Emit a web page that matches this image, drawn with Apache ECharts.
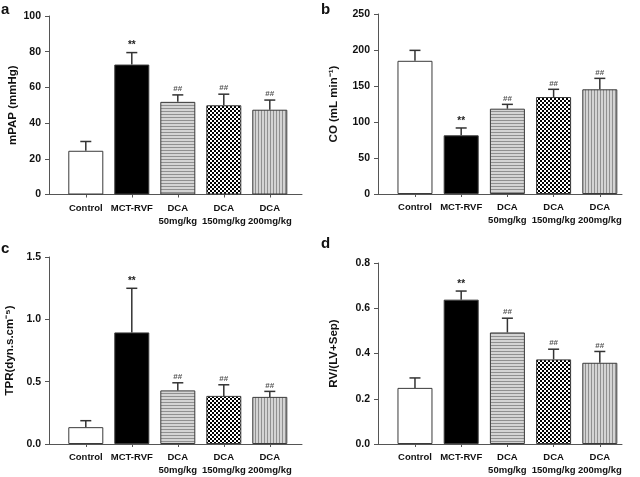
<!DOCTYPE html>
<html><head><meta charset="utf-8">
<script src="https://cdn.jsdelivr.net/npm/echarts@6/dist/echarts.min.js"></script>
<style>html,body{margin:0;padding:0;background:#fff}#c{width:640px;height:477px}</style>
</head><body><div id="c"></div>
<script>
var categories = ['Control', 'MCT-RVF', 'DCA\n50mg/kg', 'DCA\n150mg/kg', 'DCA\n200mg/kg'];
var marks = ['', '**', '##', '##', '##'];

var mpapMean = [24.5, 72.8, 51.9, 50.0, 47.5];
var mpapErr  = [5.2, 6.7, 3.9, 6.2, 5.4];

var coMean = [185, 81.5, 118.5, 134.7, 145.4];
var coErr  = [14.5, 10.2, 6.0, 10.7, 15.2];

var tprMean = [0.135, 0.895, 0.43, 0.386, 0.378];
var tprErr  = [0.052, 0.354, 0.061, 0.089, 0.044];

var rvMean = [0.248, 0.638, 0.493, 0.374, 0.359];
var rvErr  = [0.044, 0.038, 0.063, 0.045, 0.050];

function mkCanvas(w, h, draw) { var c = document.createElement('canvas'); c.width = w; c.height = h; draw(c.getContext('2d')); return c; }
var hStripe = mkCanvas(4, 3, function (g) { g.fillStyle = '#d4d4d4'; g.fillRect(0, 0, 4, 3); g.fillStyle = '#909090'; g.fillRect(0, 0, 4, 1); });
var checker = mkCanvas(4, 4, function (g) { g.fillStyle = '#ffffff'; g.fillRect(0, 0, 4, 4); g.fillStyle = '#000000'; g.fillRect(0, 0, 2, 2); g.fillRect(2, 2, 2, 2); });
var vStripe = mkCanvas(3, 4, function (g) { g.fillStyle = '#d4d4d4'; g.fillRect(0, 0, 3, 4); g.fillStyle = '#909090'; g.fillRect(0, 0, 1, 4); });
var fills = ['#ffffff', '#000000', { image: hStripe, repeat: 'repeat' }, { image: checker, repeat: 'repeat' }, { image: vStripe, repeat: 'repeat' }];

var font = 'Liberation Sans, Arial, sans-serif';
var panels = [
  { mean: mpapMean, err: mpapErr, max: 100, interval: 20, dec: 0, name: 'mPAP (mmHg)', gap: 30, grid: { left: 49, top: 16, width: 253, height: 178.5 }, xmin: -0.8, xmax: 4.7, letter: 'a', lx: 1, ly: 2 },
  { mean: coMean, err: coErr, max: 250, interval: 50, dec: 0, name: 'CO (mL min\u207B\u00B9)', gap: 38, grid: { left: 378, top: 14, width: 244, height: 180 }, xmin: -0.8, xmax: 4.48, letter: 'b', lx: 321, ly: 2 },
  { mean: tprMean, err: tprErr, max: 1.5, interval: 0.5, dec: 1, name: 'TPR(dyn.s.cm\u207B\u2075)', gap: 33.5, grid: { left: 49, top: 257, width: 253, height: 189 }, xmin: -0.8, xmax: 4.7, letter: 'c', lx: 1, ly: 241 },
  { mean: rvMean, err: rvErr, max: 0.8, interval: 0.2, dec: 1, name: 'RV/(LV+Sep)', gap: 38, grid: { left: 378, top: 263, width: 244, height: 183 }, xmin: -0.8, xmax: 4.48, letter: 'd', lx: 321, ly: 236 }
];

var option = { animation: false, backgroundColor: '#fff', title: [], grid: [], xAxis: [], yAxis: [], series: [] };
var idx5 = categories.map(function (_, i) { return i; });

panels.forEach(function (p, k) {
  option.title.push({ text: p.letter, left: p.lx, top: p.ly, padding: 0, textStyle: { fontFamily: font, fontWeight: 'bold', fontSize: 15, color: '#111' } });
  option.grid.push(p.grid);
  option.xAxis.push({
    type: 'value', gridIndex: k, min: p.xmin, max: p.xmax, splitLine: { show: false },
    axisLine: { onZero: false, lineStyle: { color: '#555', width: 1 } },
    axisTick: { customValues: idx5, length: 3, lineStyle: { color: '#555' } },
    axisLabel: { customValues: idx5, formatter: function (v) { return categories[Math.round(v)]; }, fontFamily: font, fontWeight: 'bold', fontSize: 9.5, color: '#111', lineHeight: 13, margin: 7 }
  });
  option.yAxis.push({
    type: 'value', gridIndex: k, min: 0, max: p.max, interval: p.interval, splitLine: { show: false },
    name: p.name, nameLocation: 'middle', nameGap: p.gap, nameRotate: 90,
    nameTextStyle: { fontFamily: font, fontWeight: 'bold', fontSize: 11.5, color: '#111' },
    axisLine: { show: true, onZero: false, lineStyle: { color: '#555', width: 1 } },
    axisTick: { show: true, length: 4, lineStyle: { color: '#555' } },
    axisLabel: { formatter: function (v) { return v.toFixed(p.dec); }, fontFamily: font, fontWeight: 'bold', fontSize: 10.5, color: '#111', margin: 8 }
  });
  option.series.push({
    type: 'bar', xAxisIndex: k, yAxisIndex: k, barWidth: 35,
    data: p.mean.map(function (v, i) { return { value: [i, v], itemStyle: { color: fills[i], borderColor: '#3a3a3a', borderWidth: 1 } }; })
  });
  option.series.push({
    type: 'custom', xAxisIndex: k, yAxisIndex: k, z: 5,
    data: p.mean.map(function (v, i) { return [i, v, p.err[i]]; }),
    renderItem: function (params, api) {
      var x = api.value(0), y = api.value(1), e = api.value(2);
      var p0 = api.coord([x, y]), p1 = api.coord([x, y + e]);
      var m = marks[params.dataIndex];
      var kids = [
        { type: 'line', shape: { x1: p0[0], y1: p0[1], x2: p1[0], y2: p1[1] }, style: { stroke: '#333', lineWidth: 1.5 } },
        { type: 'line', shape: { x1: p1[0] - 5.5, y1: p1[1], x2: p1[0] + 5.5, y2: p1[1] }, style: { stroke: '#333', lineWidth: 1.5 } }
      ];
      if (m) {
        kids.push({ type: 'text', x: p1[0], y: p1[1] - 2, style: { text: m, x: 0, y: 0, align: 'center', verticalAlign: 'bottom', fontFamily: font, fontWeight: 'bold', fontSize: m === '**' ? 10 : 8, fill: m === '**' ? '#222' : '#555' } });
      }
      return { type: 'group', children: kids };
    }
  });
});

var chart = echarts.init(document.getElementById('c'), null, { renderer: 'canvas' });
chart.setOption(option);
</script>
</body></html>
